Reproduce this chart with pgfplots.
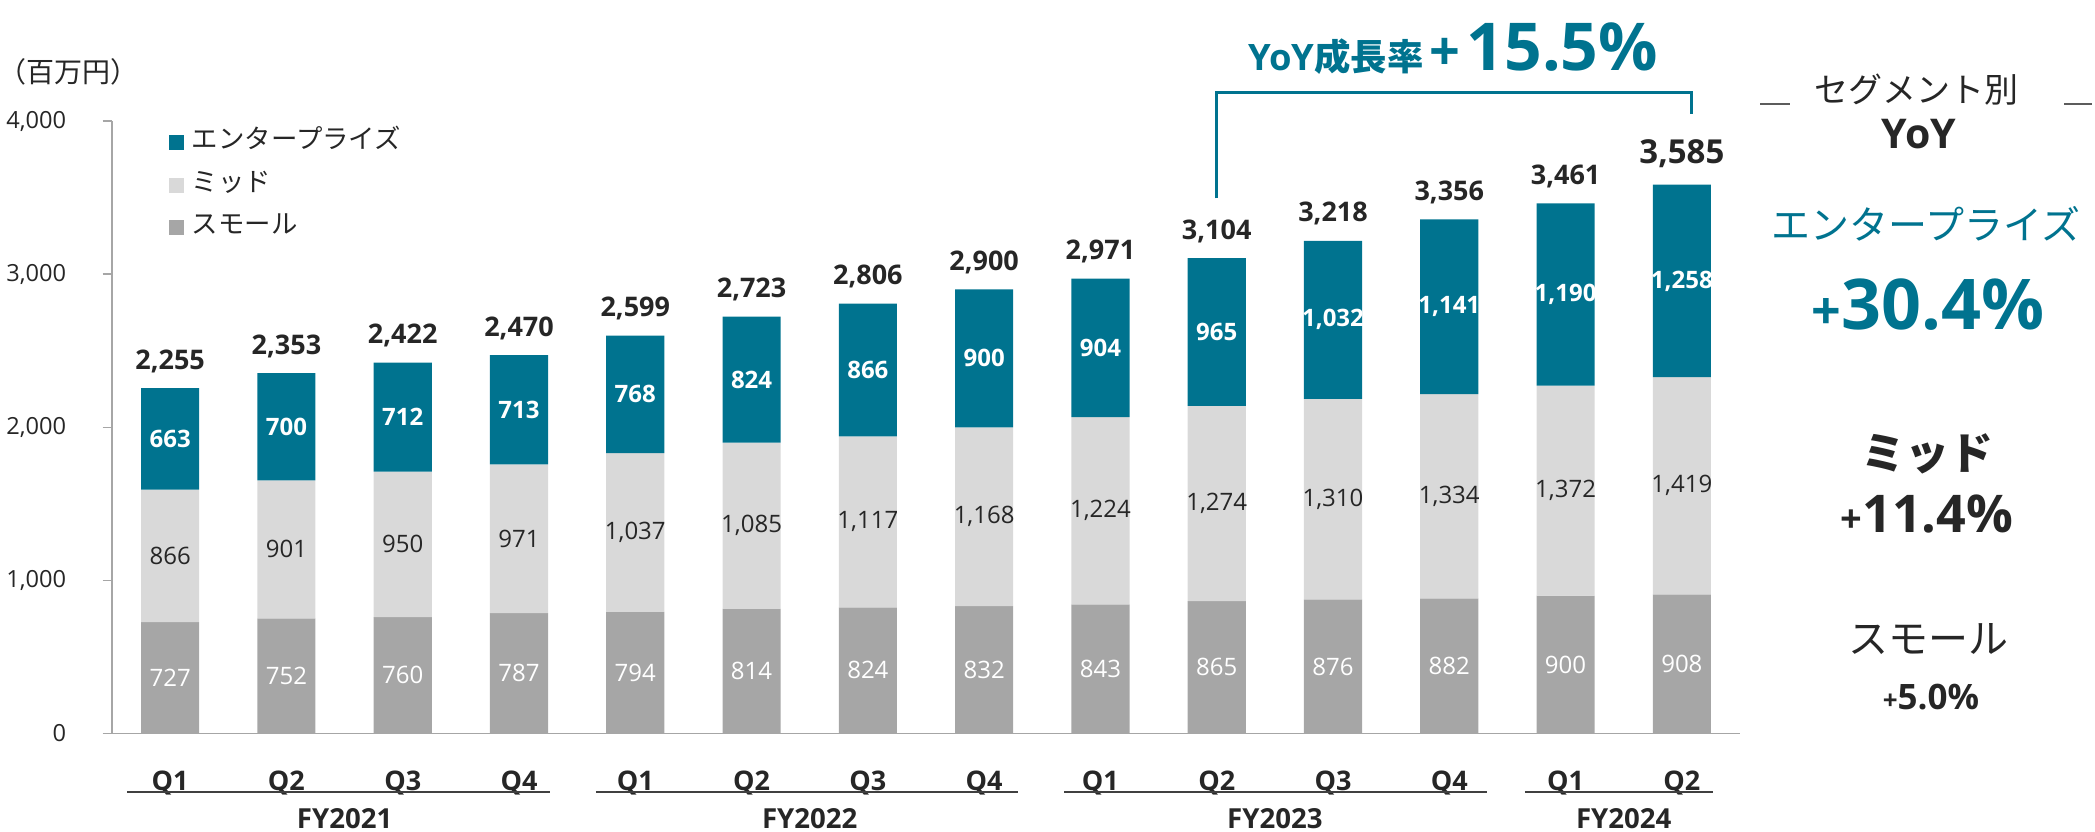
\documentclass[border=0pt]{standalone}
\usepackage{pgfplots}
\pgfplotsset{compat=1.18}
\usepackage{pgfplotstable}
\usepackage{fontspec}
\setmainfont{Open Sans}
\newfontfamily\jp{Noto Sans CJK JP}
\definecolor{ent}{HTML}{00738F}
\definecolor{mid}{HTML}{D9D9D9}
\definecolor{sml}{HTML}{A6A6A6}
\definecolor{txt}{HTML}{262626}
\definecolor{axg}{HTML}{A6A6A6}
\definecolor{uline}{HTML}{404040}
\newcommand\fs[1]{\fontsize{#1}{#1}\selectfont}
\pgfkeys{/pgf/number format/.cd,1000 sep={,},assume math mode=true}

\pgfplotstableread{
x small mid ent total
0 727 866 663 2255
1 752 901 700 2353
2 760 950 712 2422
3 787 971 713 2470
4 794 1037 768 2599
5 814 1085 824 2723
6 824 1117 866 2806
7 832 1168 900 2900
8 843 1224 904 2971
9 865 1274 965 3104
10 876 1310 1032 3218
11 882 1334 1141 3356
12 900 1372 1190 3461
13 908 1419 1258 3585
}\data

\begin{document}
\begin{tikzpicture}
\useasboundingbox (0,0) rectangle (1047.5pt,-415.5pt);
\begin{axis}[
  at={(56pt,-366.75pt)}, anchor=south west,
  scale only axis, width=814pt, height=306.25pt,
  xmin=-0.5, xmax=13.5, ymin=0, ymax=4000,
  axis x line*=bottom, axis y line*=left,
  axis line style={draw=axg, line width=0.75pt},
  ytick={0,1000,2000,3000,4000},
  ytick pos=left,
  tick align=outside,
  major tick length=4.75pt,
  ytick style={draw=axg, line width=0.75pt},
  xtick={0,...,13},
  xtick style={draw=none},
  xticklabels={Q1,Q2,Q3,Q4,Q1,Q2,Q3,Q4,Q1,Q2,Q3,Q4,Q1,Q2},
  x tick label style={font=\bfseries\fs{13.5}, text=txt, anchor=center, yshift=-20pt},
  y tick label style={font=\fs{11.8}, text=txt, anchor=east, inner sep=0pt, xshift=-18pt},
  scaled y ticks=false,
  clip=false,
  reverse legend,
  legend style={at={(0.035,0.986)}, anchor=north west, draw=none, fill=none,
    inner sep=0pt, outer sep=0pt, row sep=8.75pt, column sep=4pt,
    font=\jp\fs{13.2}, text=txt,
    nodes={inner sep=0pt, text height=9.5pt, text depth=3pt}},
  legend cell align=left,
  legend image code/.code={\fill[#1, draw=none] (0pt,-4pt) rectangle (7.5pt,3.5pt);},
]
\addplot[ybar, stack plots=y, bar width=0.5, bar shift=0pt, fill=sml, draw=none]
  table[x=x, y=small]{\data};
\addlegendentry{スモール}
\addplot[ybar, stack plots=y, bar width=0.5, bar shift=0pt, fill=mid, draw=none]
  table[x=x, y=mid]{\data};
\addlegendentry{ミッド}
\addplot[ybar, stack plots=y, bar width=0.5, bar shift=0pt, fill=ent, draw=none]
  table[x=x, y=ent]{\data};
\addlegendentry{エンタープライズ}

% segment labels
\addplot[draw=none, mark=none, forget plot, nodes near coords, point meta=explicit,
  nodes near coords style={anchor=center, font=\fs{12}, text=white}]
  table[x=x, y expr=\thisrow{small}/2, meta=small]{\data};
\addplot[draw=none, mark=none, forget plot, nodes near coords, point meta=explicit,
  nodes near coords style={anchor=center, font=\fs{12}, text=txt}]
  table[x=x, y expr=\thisrow{small}+\thisrow{mid}/2, meta=mid]{\data};
\addplot[draw=none, mark=none, forget plot, nodes near coords, point meta=explicit,
  nodes near coords style={anchor=center, font=\bfseries\fs{12}, text=white}]
  table[x=x, y expr=\thisrow{small}+\thisrow{mid}+\thisrow{ent}/2, meta=ent]{\data};
% totals
\addplot[draw=none, mark=none, forget plot, nodes near coords, point meta=explicit,
  restrict x to domain=0:12,
  nodes near coords style={anchor=center, yshift=13.5pt, font=\bfseries\fs{13.5}, text=txt}]
  table[x=x, y=total, meta=total]{\data};
\addplot[draw=none, mark=none, forget plot, nodes near coords, point meta=explicit,
  restrict x to domain=13:13,
  nodes near coords style={anchor=center, yshift=15.5pt, font=\bfseries\fs{16.5}, text=txt}]
  table[x=x, y=total, meta=total]{\data};

% bracket
\draw[ent, line width=1.5pt] (axis cs:9,3494) |- (axis cs:13.08,4183) -- (axis cs:13.08,4049);

% fiscal-year groups
\draw[uline, line width=0.75pt] ([yshift=-29.25pt]axis cs:-0.37,0) -- ([yshift=-29.25pt]axis cs:3.27,0);
\draw[uline, line width=0.75pt] ([yshift=-29.25pt]axis cs:3.66,0) -- ([yshift=-29.25pt]axis cs:7.29,0);
\draw[uline, line width=0.75pt] ([yshift=-29.25pt]axis cs:7.69,0) -- ([yshift=-29.25pt]axis cs:11.32,0);
\draw[uline, line width=0.75pt] ([yshift=-29.25pt]axis cs:11.65,0) -- ([yshift=-29.25pt]axis cs:13.27,0);
\node[font=\bfseries\fs{13.8}, text=txt] at ([yshift=-42.5pt]axis cs:1.5,0) {FY2021};
\node[font=\bfseries\fs{13.8}, text=txt] at ([yshift=-42.5pt]axis cs:5.5,0) {FY2022};
\node[font=\bfseries\fs{13.8}, text=txt] at ([yshift=-42.5pt]axis cs:9.5,0) {FY2023};
\node[font=\bfseries\fs{13.8}, text=txt] at ([yshift=-42.5pt]axis cs:12.5,0) {FY2024};
\end{axis}

% unit
\node[font=\jp\fs{14}, text=txt] at (34pt,-36pt) {（百万円）};

% headline
\node[anchor=base west, inner sep=0pt, text=ent, font=\bfseries] at (624pt,-35.4pt)
  {\fs{18.2}YoY{\jp 成長率}\,{\fs{27}+}\,{\fs{33}15.5\%}};

% right panel
\node[font=\jp\fs{17}, text=txt] at (958pt,-45pt) {セグメント別};
\node[font=\bfseries\fs{20.5}, text=txt] at (959.5pt,-67pt) {YoY};
\draw[txt!75, line width=0.75pt] (880pt,-52pt) -- (895pt,-52pt);
\draw[txt!75, line width=0.75pt] (1032pt,-52pt) -- (1046pt,-52pt);
\node[font=\jp\fs{19.5}, text=ent] at (963pt,-112pt) {エンタープライズ};
\node[text=ent, font=\bfseries] at (964pt,-152.5pt) {{\fs{26}+}{\fs{35}30.4\%}};
\node[font=\jp\bfseries\fs{22}, text=txt] at (963.5pt,-227pt) {ミッド};
\node[text=txt, font=\bfseries] at (963.5pt,-257pt) {{\fs{19}+}{\fs{26}11.4\%}};
\node[font=\jp\fs{20}, text=txt] at (964pt,-319.5pt) {スモール};
\node[text=txt, font=\bfseries] at (965.5pt,-348.5pt) {{\fs{13}+}{\fs{17.5}5.0\%}};
\end{tikzpicture}
\end{document}
